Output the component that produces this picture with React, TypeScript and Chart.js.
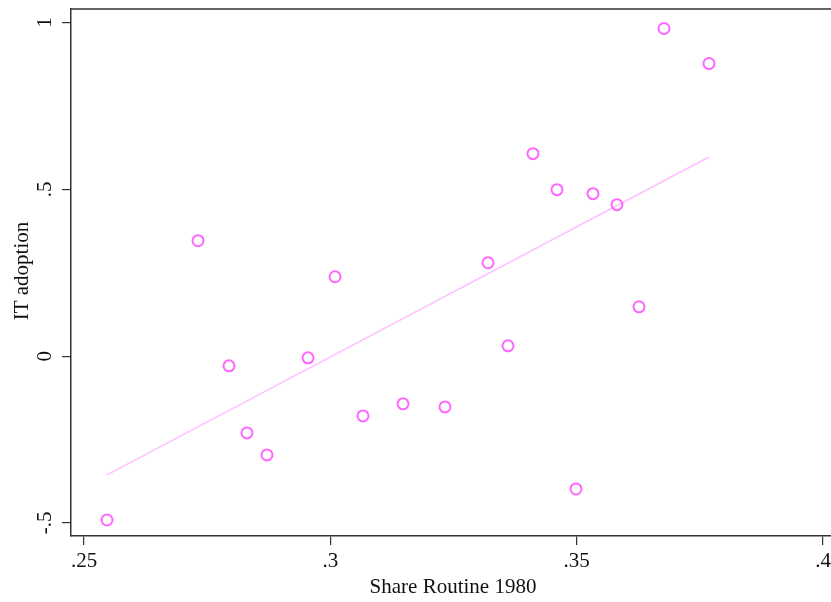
import React, { useEffect, useRef } from 'react';
import { Chart, registerables } from 'chart.js';

Chart.register(...registerables);

const shareRoutine = [
  0.25467, 0.27314, 0.27943, 0.28308, 0.28714, 0.29547, 0.30095, 0.30663, 0.31475, 0.32327,
  0.332, 0.33606, 0.34113, 0.34601, 0.34986, 0.35331, 0.35818, 0.36265, 0.36772, 0.37685,
];
const itAdoption = [
  -0.491, 0.346, -0.029, -0.23, -0.296, -0.005, 0.238, -0.179, -0.143, -0.152,
  0.28, 0.031, 0.607, 0.499, -0.398, 0.487, 0.454, 0.148, 0.982, 0.877,
];
const fitX = [0.25467, 0.37685];
const fitY = [-0.356, 0.597];

const xTicks = [0.25, 0.3, 0.35, 0.4];
const xTickLabels = ['.25', '.3', '.35', '.4'];
const yTicks = [-0.5, 0, 0.5, 1];
const yTickLabels = ['-.5', '0', '.5', '1'];

const xTitle = 'Share Routine 1980';
const yTitle = 'IT adoption';

const FONT = '"Liberation Serif", "Times New Roman", serif';
const AXIS_COLOR = '#333333';
const TEXT_COLOR = '#111111';

export default function App() {
  const ref = useRef<HTMLCanvasElement | null>(null);

  useEffect(() => {
    if (!ref.current) return;

    const framePlugin = {
      id: 'frameAndTitles',
      afterDraw(chart: any) {
        const { ctx, chartArea } = chart;
        ctx.save();
        ctx.strokeStyle = AXIS_COLOR;
        ctx.lineWidth = 1.5;
        ctx.beginPath();
        ctx.moveTo(chartArea.left, chartArea.top);
        ctx.lineTo(chart.width + 2, chartArea.top);
        ctx.stroke();
        ctx.fillStyle = TEXT_COLOR;
        ctx.font = `21px ${FONT}`;
        ctx.textAlign = 'center';
        ctx.textBaseline = 'middle';
        ctx.fillText(xTitle, 453, 587);
        ctx.translate(22, 271);
        ctx.rotate(-Math.PI / 2);
        ctx.fillText(yTitle, 0, 0);
        ctx.restore();
      },
    };

    const chart = new Chart(ref.current, {
      type: 'scatter',
      data: {
        datasets: [
          {
            type: 'line',
            data: fitX.map((x, i) => ({ x, y: fitY[i] })),
            borderColor: '#ffc0ff',
            borderWidth: 1.5,
            pointRadius: 0,
            showLine: true,
            fill: false,
            order: 2,
          } as any,
          {
            data: shareRoutine.map((x, i) => ({ x, y: itAdoption[i] })),
            pointStyle: 'circle',
            pointRadius: 5.5,
            pointBorderWidth: 2,
            borderColor: '#ff66ff',
            backgroundColor: 'rgba(0,0,0,0)',
            pointBackgroundColor: 'rgba(0,0,0,0)',
            pointBorderColor: '#ff66ff',
            order: 1,
          },
        ],
      },
      options: {
        responsive: false,
        animation: false,
        layout: { autoPadding: false, padding: { top: 9, left: 0, right: 0, bottom: 0 } },
        plugins: { legend: { display: false }, tooltip: { enabled: false } },
        scales: {
          x: {
            type: 'linear',
            min: 0.24736,
            max: 0.40162,
            afterBuildTicks: (scale: any) => {
              scale.ticks = xTicks.map((v) => ({ value: v }));
            },
            afterFit: (scale: any) => {
              scale.height = 66;
              scale.paddingLeft = 0;
              scale.paddingRight = 0;
            },
            border: { display: true, color: AXIS_COLOR, width: 1.5 },
            grid: { display: true, drawOnChartArea: false, drawTicks: true, tickLength: 9, color: AXIS_COLOR, lineWidth: 1.2 },
            ticks: {
              autoSkip: false,
              maxRotation: 0,
              minRotation: 0,
              padding: 4,
              color: TEXT_COLOR,
              font: { family: FONT, size: 21 },
              callback: (v: any) => xTickLabels[xTicks.indexOf(Number(v))] ?? '',
            },
          },
          y: {
            type: 'linear',
            min: -0.539,
            max: 1.0405,
            afterBuildTicks: (scale: any) => {
              scale.ticks = yTicks.map((v) => ({ value: v }));
            },
            afterFit: (scale: any) => {
              scale.width = 71;
              scale.paddingTop = 0;
              scale.paddingBottom = 0;
            },
            border: { display: true, color: AXIS_COLOR, width: 1.5 },
            grid: { display: true, drawOnChartArea: false, drawTicks: true, tickLength: 9, color: AXIS_COLOR, lineWidth: 1.2 },
            ticks: {
              autoSkip: false,
              minRotation: 90,
              maxRotation: 90,
              crossAlign: 'center',
              padding: 5,
              color: TEXT_COLOR,
              font: { family: FONT, size: 21 },
              callback: (v: any) => yTickLabels[yTicks.indexOf(Number(v))] ?? '',
            },
          },
        },
      },
      plugins: [framePlugin],
    });

    return () => chart.destroy();
  }, []);

  return (
    <div style={{ position: 'absolute', left: 0, top: 0, width: 831, height: 602, background: '#ffffff' }}>
      <canvas ref={ref} width={831} height={602} style={{ display: 'block' }} />
    </div>
  );
}
